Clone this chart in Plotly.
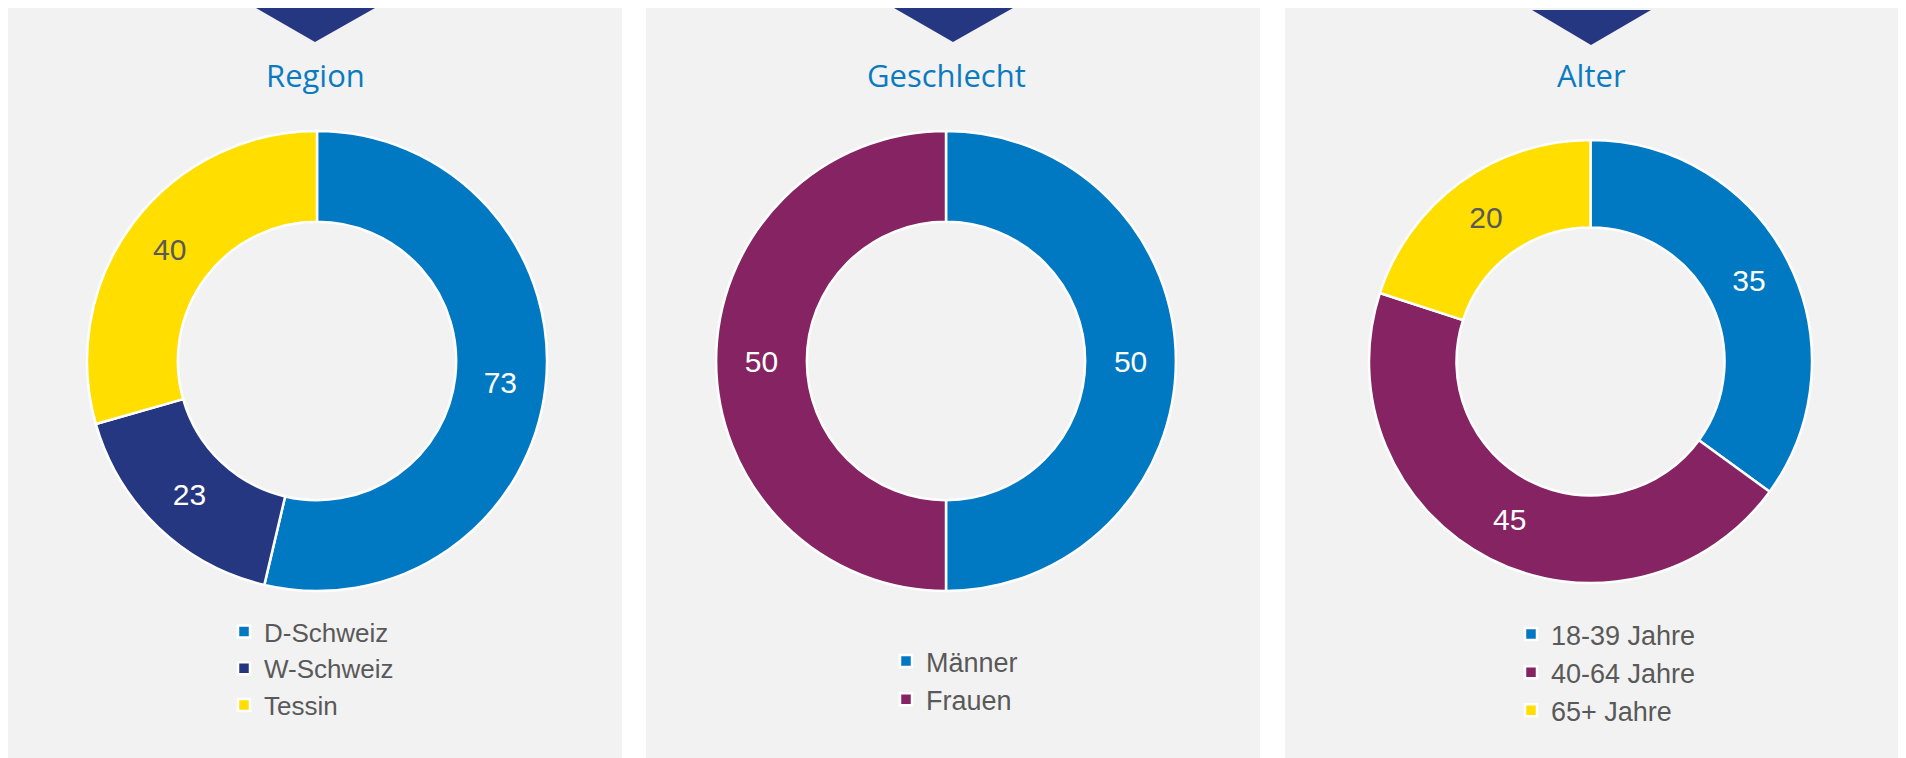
import plotly.graph_objects as go

# the page body adds an 8px margin, so the figure sits at (8, 8) in the window
W, H = 1890, 750
OFFSET = 8

# data per panel
region_labels = ["D-Schweiz", "W-Schweiz", "Tessin"]
region_values = [73, 23, 40]
sex_labels = ["Männer", "Frauen"]
sex_values = [50, 50]
age_labels = ["18-39 Jahre", "40-64 Jahre", "65+ Jahre"]
age_values = [35, 45, 20]
titles = ["Region", "Geschlecht", "Alter"]

BLUE = "#0079c2"
NAVY = "#263782"
PURPLE = "#862362"
YELLOW = "#ffde00"
GREY_TEXT = "#595959"
TITLE_BLUE = "#0b7bc1"
PANEL_BG = "#f2f2f2"

ARIAL = "Arial, Liberation Sans, sans-serif"


def px_x(x):
    # window pixel -> paper
    return (x - OFFSET) / W


def px_y(y):
    # window pixel from top -> paper from bottom
    return 1 - (y - OFFSET) / H


def donut(labels, values, colors, cx, cy, r, legend):
    text_colors = [GREY_TEXT if c == YELLOW else "white" for c in colors]
    return go.Pie(
        labels=labels,
        values=values,
        hole=0.605,
        sort=False,
        direction="clockwise",
        rotation=0,
        marker=dict(colors=colors, line=dict(color="white", width=2.5)),
        textinfo="value",
        textposition="inside",
        insidetextorientation="horizontal",
        insidetextfont=dict(family=ARIAL, size=30, color=text_colors),
        domain=dict(x=[px_x(cx - r), px_x(cx + r)], y=[px_y(cy + r), px_y(cy - r)]),
        legend=legend,
        hoverinfo="label+value",
    )


fig = go.Figure()
fig.add_trace(donut(region_labels, region_values, [BLUE, NAVY, YELLOW], 317, 361, 230, "legend"))
fig.add_trace(donut(sex_labels, sex_values, [BLUE, PURPLE], 946, 361, 230, "legend2"))
fig.add_trace(donut(age_labels, age_values, [BLUE, PURPLE, YELLOW], 1590.5, 361.5, 221.5, "legend3"))

# grey panels, triangles and titles
panels = [(8, 622), (646, 1260), (1285, 1898)]
tri = [(256, 375, 315, 8, 42), (894, 1013, 953, 8, 42), (1532, 1651, 1591, 10, 45)]
title_x = [315, 946, 1591]

shapes = []
for x0, x1 in panels:
    shapes.append(dict(type="rect", xref="paper", yref="paper",
                       x0=px_x(x0), x1=px_x(x1), y0=px_y(758), y1=px_y(8),
                       fillcolor=PANEL_BG, line=dict(width=0), layer="below"))
for l, r, a, t, b in tri:
    path = "M{:.5f},{:.5f} L{:.5f},{:.5f} L{:.5f},{:.5f} Z".format(
        px_x(l), px_y(t), px_x(r), px_y(t), px_x(a), px_y(b))
    shapes.append(dict(type="path", xref="paper", yref="paper", path=path,
                       fillcolor=NAVY, line=dict(width=0)))

annotations = [
    dict(text=t, x=px_x(x), y=px_y(75), xref="paper", yref="paper",
         xanchor="center", yanchor="middle", showarrow=False,
         font=dict(family="Open Sans, Noto Sans, sans-serif", size=31, color=TITLE_BLUE))
    for t, x in zip(titles, title_x)
]


def legend_box(left, top, size):
    return dict(x=px_x(left), y=px_y(top), xanchor="left", yanchor="top",
                bgcolor="rgba(0,0,0,0)", orientation="v",
                font=dict(family=ARIAL, size=size, color=GREY_TEXT))


fig.update_layout(
    width=W,
    height=H,
    margin=dict(l=0, r=0, t=0, b=0),
    paper_bgcolor="white",
    plot_bgcolor="white",
    shapes=shapes,
    annotations=annotations,
    showlegend=True,
    legend=legend_box(224, 608, 26),
    legend2=legend_box(886, 637, 27),
    legend3=legend_box(1511, 610, 27),
)

fig.write_html("out.html")
